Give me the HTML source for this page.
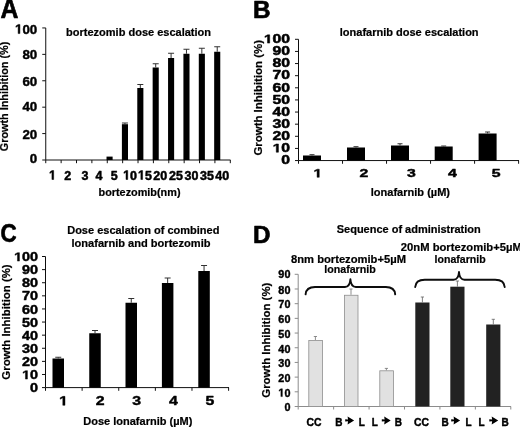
<!DOCTYPE html>
<html><head><meta charset="utf-8"><title>Figure</title>
<style>html,body{margin:0;padding:0;background:#fff;}svg{display:block;will-change:transform;}text{font-family:"Liberation Sans",sans-serif;font-weight:bold;fill:#000;stroke:#000;stroke-width:0.22px;stroke-linejoin:round;}</style>
</head><body>
<svg width="520" height="428" viewBox="0 0 520 428">
<defs><filter id="soft" x="0" y="0" width="520" height="428" filterUnits="userSpaceOnUse"><feGaussianBlur stdDeviation="0.42"/></filter></defs>
<rect x="0" y="0" width="520" height="428" fill="#fff"/>
<g filter="url(#soft)">
<rect x="-5" y="-5" width="530" height="438" fill="#fff"/>
<text transform="translate(0.4,17.9) scale(1,1.08)" font-size="24.8" style="stroke-width:0.65px">A</text>
<text x="252.9" y="18.1" font-size="24.3" text-anchor="start" style="stroke-width:0.65px">B</text>
<text x="0.5" y="242.1" font-size="25.2" text-anchor="start" textLength="16.2" lengthAdjust="spacingAndGlyphs" style="stroke-width:0.65px">C</text>
<text x="253.0" y="242.5" font-size="24.2" text-anchor="start" style="stroke-width:0.65px">D</text>
<line x1="45.75" y1="27.95" x2="45.75" y2="160.0" stroke="#111111" stroke-width="1"/>
<line x1="45.75" y1="160.0" x2="230.5" y2="160.0" stroke="#111111" stroke-width="1"/>
<line x1="42.25" y1="160.0" x2="45.75" y2="160.0" stroke="#111111" stroke-width="1"/>
<text transform="translate(29.80,163.40) scale(1.0,1)" font-size="13.3" style="stroke-width:0.45px">0</text>
<line x1="42.25" y1="133.59" x2="45.75" y2="133.59" stroke="#111111" stroke-width="1"/>
<text transform="translate(22.41,138.80) scale(1.0,1)" font-size="13.3" style="stroke-width:0.45px">2</text>
<text transform="translate(29.80,138.80) scale(1.0,1)" font-size="13.3" style="stroke-width:0.45px">0</text>
<line x1="42.25" y1="107.17999999999999" x2="45.75" y2="107.17999999999999" stroke="#111111" stroke-width="1"/>
<text transform="translate(22.41,111.30) scale(1.0,1)" font-size="13.3" style="stroke-width:0.45px">4</text>
<text transform="translate(29.80,111.30) scale(1.0,1)" font-size="13.3" style="stroke-width:0.45px">0</text>
<line x1="42.25" y1="80.77" x2="45.75" y2="80.77" stroke="#111111" stroke-width="1"/>
<text transform="translate(22.41,85.90) scale(1.0,1)" font-size="13.3" style="stroke-width:0.45px">6</text>
<text transform="translate(29.80,85.90) scale(1.0,1)" font-size="13.3" style="stroke-width:0.45px">0</text>
<line x1="42.25" y1="54.359999999999985" x2="45.75" y2="54.359999999999985" stroke="#111111" stroke-width="1"/>
<text transform="translate(22.41,58.50) scale(1.0,1)" font-size="13.3" style="stroke-width:0.45px">8</text>
<text transform="translate(29.80,58.50) scale(1.0,1)" font-size="13.3" style="stroke-width:0.45px">0</text>
<line x1="42.25" y1="27.94999999999999" x2="45.75" y2="27.94999999999999" stroke="#111111" stroke-width="1"/>
<polygon points="18.11,33.60 18.11,26.00 15.92,27.37 15.92,25.94 18.21,24.45 19.94,24.45 19.94,33.60" fill="#000" stroke="#000" stroke-width="0.45" stroke-linejoin="round"/>
<text transform="translate(22.41,33.60) scale(1.0,1)" font-size="13.3" style="stroke-width:0.45px">0</text>
<text transform="translate(29.80,33.60) scale(1.0,1)" font-size="13.3" style="stroke-width:0.45px">0</text>
<line x1="45.75" y1="160.0" x2="45.75" y2="163.2" stroke="#111111" stroke-width="1"/>
<line x1="61.12916666666667" y1="160.0" x2="61.12916666666667" y2="163.2" stroke="#111111" stroke-width="1"/>
<line x1="76.50833333333334" y1="160.0" x2="76.50833333333334" y2="163.2" stroke="#111111" stroke-width="1"/>
<line x1="91.8875" y1="160.0" x2="91.8875" y2="163.2" stroke="#111111" stroke-width="1"/>
<line x1="107.26666666666668" y1="160.0" x2="107.26666666666668" y2="163.2" stroke="#111111" stroke-width="1"/>
<line x1="122.64583333333334" y1="160.0" x2="122.64583333333334" y2="163.2" stroke="#111111" stroke-width="1"/>
<line x1="138.025" y1="160.0" x2="138.025" y2="163.2" stroke="#111111" stroke-width="1"/>
<line x1="153.4041666666667" y1="160.0" x2="153.4041666666667" y2="163.2" stroke="#111111" stroke-width="1"/>
<line x1="168.78333333333336" y1="160.0" x2="168.78333333333336" y2="163.2" stroke="#111111" stroke-width="1"/>
<line x1="184.16250000000002" y1="160.0" x2="184.16250000000002" y2="163.2" stroke="#111111" stroke-width="1"/>
<line x1="199.54166666666669" y1="160.0" x2="199.54166666666669" y2="163.2" stroke="#111111" stroke-width="1"/>
<line x1="214.92083333333335" y1="160.0" x2="214.92083333333335" y2="163.2" stroke="#111111" stroke-width="1"/>
<line x1="230.3" y1="160.0" x2="230.3" y2="163.2" stroke="#111111" stroke-width="1"/>
<polygon points="51.94,179.50 51.94,172.07 49.88,173.41 49.88,172.01 52.03,170.56 53.65,170.56 53.65,179.50" fill="#000" stroke="#000" stroke-width="0.5" stroke-linejoin="round"/>
<text transform="translate(64.33,179.50) scale(0.96,1)" font-size="13" style="stroke-width:0.5px">2</text>
<text transform="translate(81.43,179.50) scale(0.96,1)" font-size="13" style="stroke-width:0.5px">3</text>
<text transform="translate(95.43,179.50) scale(0.96,1)" font-size="13" style="stroke-width:0.5px">4</text>
<text transform="translate(110.83,179.50) scale(0.96,1)" font-size="13" style="stroke-width:0.5px">5</text>
<polygon points="126.02,179.50 126.02,172.07 123.96,173.41 123.96,172.01 126.11,170.56 127.73,170.56 127.73,179.50" fill="#000" stroke="#000" stroke-width="0.5" stroke-linejoin="round"/>
<text transform="translate(130.05,179.50) scale(0.96,1)" font-size="13" style="stroke-width:0.5px">0</text>
<polygon points="140.87,179.50 140.87,172.07 138.81,173.41 138.81,172.01 140.96,170.56 142.58,170.56 142.58,179.50" fill="#000" stroke="#000" stroke-width="0.5" stroke-linejoin="round"/>
<text transform="translate(144.90,179.50) scale(0.96,1)" font-size="13" style="stroke-width:0.5px">5</text>
<text transform="translate(153.36,179.50) scale(0.96,1)" font-size="13" style="stroke-width:0.5px">2</text>
<text transform="translate(160.30,179.50) scale(0.96,1)" font-size="13" style="stroke-width:0.5px">0</text>
<text transform="translate(168.96,179.50) scale(0.96,1)" font-size="13" style="stroke-width:0.5px">2</text>
<text transform="translate(175.90,179.50) scale(0.96,1)" font-size="13" style="stroke-width:0.5px">5</text>
<text transform="translate(184.46,179.50) scale(0.96,1)" font-size="13" style="stroke-width:0.5px">3</text>
<text transform="translate(191.40,179.50) scale(0.96,1)" font-size="13" style="stroke-width:0.5px">0</text>
<text transform="translate(199.96,179.50) scale(0.96,1)" font-size="13" style="stroke-width:0.5px">3</text>
<text transform="translate(206.90,179.50) scale(0.96,1)" font-size="13" style="stroke-width:0.5px">5</text>
<text transform="translate(215.26,179.50) scale(0.96,1)" font-size="13" style="stroke-width:0.5px">4</text>
<text transform="translate(222.20,179.50) scale(0.96,1)" font-size="13" style="stroke-width:0.5px">0</text>
<rect x="106.52" y="156.60" width="6.10" height="3.40" fill="#000"/>
<rect x="121.90" y="124.20" width="6.10" height="35.80" fill="#000"/>
<line x1="124.94583333333334" y1="123.0" x2="124.94583333333334" y2="124.2" stroke="#333" stroke-width="1"/>
<line x1="121.94583333333334" y1="123.0" x2="127.94583333333334" y2="123.0" stroke="#333" stroke-width="1"/>
<rect x="137.28" y="88.00" width="6.10" height="72.00" fill="#000"/>
<line x1="140.32500000000002" y1="84.5" x2="140.32500000000002" y2="88" stroke="#333" stroke-width="1"/>
<line x1="137.32500000000002" y1="84.5" x2="143.32500000000002" y2="84.5" stroke="#333" stroke-width="1"/>
<rect x="152.65" y="67.50" width="6.10" height="92.50" fill="#000"/>
<line x1="155.7041666666667" y1="63.75" x2="155.7041666666667" y2="67.5" stroke="#333" stroke-width="1"/>
<line x1="152.7041666666667" y1="63.75" x2="158.7041666666667" y2="63.75" stroke="#333" stroke-width="1"/>
<rect x="168.03" y="58.00" width="6.10" height="102.00" fill="#000"/>
<line x1="171.08333333333337" y1="53.25" x2="171.08333333333337" y2="58" stroke="#333" stroke-width="1"/>
<line x1="168.08333333333337" y1="53.25" x2="174.08333333333337" y2="53.25" stroke="#333" stroke-width="1"/>
<rect x="183.41" y="53.75" width="6.10" height="106.25" fill="#000"/>
<line x1="186.46250000000003" y1="49.25" x2="186.46250000000003" y2="53.75" stroke="#333" stroke-width="1"/>
<line x1="183.46250000000003" y1="49.25" x2="189.46250000000003" y2="49.25" stroke="#333" stroke-width="1"/>
<rect x="198.79" y="53.75" width="6.10" height="106.25" fill="#000"/>
<line x1="201.8416666666667" y1="48.25" x2="201.8416666666667" y2="53.75" stroke="#333" stroke-width="1"/>
<line x1="198.8416666666667" y1="48.25" x2="204.8416666666667" y2="48.25" stroke="#333" stroke-width="1"/>
<rect x="214.17" y="51.75" width="6.10" height="108.25" fill="#000"/>
<line x1="217.22083333333336" y1="46.75" x2="217.22083333333336" y2="51.75" stroke="#333" stroke-width="1"/>
<line x1="214.22083333333336" y1="46.75" x2="220.22083333333336" y2="46.75" stroke="#333" stroke-width="1"/>
<text x="66.1" y="35.9" font-size="11" text-anchor="start" textLength="144.9" lengthAdjust="spacingAndGlyphs" >bortezomib dose escalation</text>
<text x="98.5" y="195.5" font-size="11" text-anchor="start" textLength="82" lengthAdjust="spacingAndGlyphs" >bortezomib(nm)</text>
<text transform="translate(7.9,96.5) rotate(-90)" font-size="11" text-anchor="middle" textLength="109.5" lengthAdjust="spacingAndGlyphs">Growth Inhibition (%)</text>
<line x1="298.5" y1="39.3" x2="298.5" y2="160.55" stroke="#111111" stroke-width="1"/>
<line x1="298.5" y1="160.55" x2="519" y2="160.55" stroke="#111111" stroke-width="1"/>
<line x1="295.0" y1="160.55" x2="298.5" y2="160.55" stroke="#111111" stroke-width="1"/>
<text transform="translate(281.35,164.35) scale(1.3110916008194322,1)" font-size="12.0" style="stroke-width:0.5px">0</text>
<line x1="295.0" y1="148.425" x2="298.5" y2="148.425" stroke="#111111" stroke-width="1"/>
<polygon points="276.27,152.23 276.27,145.37 273.68,146.61 273.68,145.31 276.39,143.97 278.43,143.97 278.43,152.23" fill="#000" stroke="#000" stroke-width="0.5" stroke-linejoin="round"/>
<text transform="translate(281.35,152.23) scale(1.3110916008194322,1)" font-size="12.0" style="stroke-width:0.5px">0</text>
<line x1="295.0" y1="136.3" x2="298.5" y2="136.3" stroke="#111111" stroke-width="1"/>
<text transform="translate(272.60,140.10) scale(1.3110916008194322,1)" font-size="12.0" style="stroke-width:0.5px">2</text>
<text transform="translate(281.35,140.10) scale(1.3110916008194322,1)" font-size="12.0" style="stroke-width:0.5px">0</text>
<line x1="295.0" y1="124.17500000000001" x2="298.5" y2="124.17500000000001" stroke="#111111" stroke-width="1"/>
<text transform="translate(272.60,127.98) scale(1.3110916008194322,1)" font-size="12.0" style="stroke-width:0.5px">3</text>
<text transform="translate(281.35,127.98) scale(1.3110916008194322,1)" font-size="12.0" style="stroke-width:0.5px">0</text>
<line x1="295.0" y1="112.05000000000001" x2="298.5" y2="112.05000000000001" stroke="#111111" stroke-width="1"/>
<text transform="translate(272.60,115.85) scale(1.3110916008194322,1)" font-size="12.0" style="stroke-width:0.5px">4</text>
<text transform="translate(281.35,115.85) scale(1.3110916008194322,1)" font-size="12.0" style="stroke-width:0.5px">0</text>
<line x1="295.0" y1="99.925" x2="298.5" y2="99.925" stroke="#111111" stroke-width="1"/>
<text transform="translate(272.60,103.72) scale(1.3110916008194322,1)" font-size="12.0" style="stroke-width:0.5px">5</text>
<text transform="translate(281.35,103.72) scale(1.3110916008194322,1)" font-size="12.0" style="stroke-width:0.5px">0</text>
<line x1="295.0" y1="87.8" x2="298.5" y2="87.8" stroke="#111111" stroke-width="1"/>
<text transform="translate(272.60,91.60) scale(1.3110916008194322,1)" font-size="12.0" style="stroke-width:0.5px">6</text>
<text transform="translate(281.35,91.60) scale(1.3110916008194322,1)" font-size="12.0" style="stroke-width:0.5px">0</text>
<line x1="295.0" y1="75.675" x2="298.5" y2="75.675" stroke="#111111" stroke-width="1"/>
<text transform="translate(272.60,79.47) scale(1.3110916008194322,1)" font-size="12.0" style="stroke-width:0.5px">7</text>
<text transform="translate(281.35,79.47) scale(1.3110916008194322,1)" font-size="12.0" style="stroke-width:0.5px">0</text>
<line x1="295.0" y1="63.55" x2="298.5" y2="63.55" stroke="#111111" stroke-width="1"/>
<text transform="translate(272.60,67.35) scale(1.3110916008194322,1)" font-size="12.0" style="stroke-width:0.5px">8</text>
<text transform="translate(281.35,67.35) scale(1.3110916008194322,1)" font-size="12.0" style="stroke-width:0.5px">0</text>
<line x1="295.0" y1="51.42499999999998" x2="298.5" y2="51.42499999999998" stroke="#111111" stroke-width="1"/>
<text transform="translate(272.60,55.22) scale(1.3110916008194322,1)" font-size="12.0" style="stroke-width:0.5px">9</text>
<text transform="translate(281.35,55.22) scale(1.3110916008194322,1)" font-size="12.0" style="stroke-width:0.5px">0</text>
<line x1="295.0" y1="39.29999999999998" x2="298.5" y2="39.29999999999998" stroke="#111111" stroke-width="1"/>
<polygon points="267.52,43.10 267.52,36.24 264.93,37.48 264.93,36.19 267.64,34.84 269.68,34.84 269.68,43.10" fill="#000" stroke="#000" stroke-width="0.5" stroke-linejoin="round"/>
<text transform="translate(272.60,43.10) scale(1.3110916008194322,1)" font-size="12.0" style="stroke-width:0.5px">0</text>
<text transform="translate(281.35,43.10) scale(1.3110916008194322,1)" font-size="12.0" style="stroke-width:0.5px">0</text>
<line x1="298.5" y1="160.55" x2="298.5" y2="163.75" stroke="#111111" stroke-width="1"/>
<line x1="342.52" y1="160.55" x2="342.52" y2="163.75" stroke="#111111" stroke-width="1"/>
<line x1="386.54" y1="160.55" x2="386.54" y2="163.75" stroke="#111111" stroke-width="1"/>
<line x1="430.56" y1="160.55" x2="430.56" y2="163.75" stroke="#111111" stroke-width="1"/>
<line x1="474.58000000000004" y1="160.55" x2="474.58000000000004" y2="163.75" stroke="#111111" stroke-width="1"/>
<line x1="518.6" y1="160.55" x2="518.6" y2="163.75" stroke="#111111" stroke-width="1"/>
<polygon points="317.09,177.30 317.09,170.56 314.48,171.77 314.48,170.50 317.21,169.18 319.26,169.18 319.26,177.30" fill="#000" stroke="#000" stroke-width="0.45" stroke-linejoin="round"/>
<text transform="translate(359.50,177.30) scale(1.3409324266007947,1)" font-size="11.8" style="stroke-width:0.45px">2</text>
<text transform="translate(406.90,177.30) scale(1.3409324266007947,1)" font-size="11.8" style="stroke-width:0.45px">3</text>
<text transform="translate(447.90,177.30) scale(1.3409324266007947,1)" font-size="11.8" style="stroke-width:0.45px">4</text>
<text transform="translate(491.80,177.30) scale(1.3409324266007947,1)" font-size="11.8" style="stroke-width:0.45px">5</text>
<rect x="303.00" y="155.50" width="18.00" height="5.05" fill="#000"/>
<line x1="312" y1="154.7" x2="312" y2="155.5" stroke="#333" stroke-width="1"/>
<line x1="309.5" y1="154.7" x2="314.5" y2="154.7" stroke="#333" stroke-width="1"/>
<rect x="347.00" y="147.50" width="18.00" height="13.05" fill="#000"/>
<line x1="356" y1="146.7" x2="356" y2="147.5" stroke="#333" stroke-width="1"/>
<line x1="353.5" y1="146.7" x2="358.5" y2="146.7" stroke="#333" stroke-width="1"/>
<rect x="391.00" y="145.50" width="18.00" height="15.05" fill="#000"/>
<line x1="400" y1="143.75" x2="400" y2="145.5" stroke="#333" stroke-width="1"/>
<line x1="397.5" y1="143.75" x2="402.5" y2="143.75" stroke="#333" stroke-width="1"/>
<rect x="434.70" y="146.50" width="18.00" height="14.05" fill="#000"/>
<line x1="443.7" y1="146.0" x2="443.7" y2="146.5" stroke="#333" stroke-width="1"/>
<line x1="441.2" y1="146.0" x2="446.2" y2="146.0" stroke="#333" stroke-width="1"/>
<rect x="478.60" y="133.50" width="18.00" height="27.05" fill="#000"/>
<line x1="487.6" y1="132.0" x2="487.6" y2="133.5" stroke="#333" stroke-width="1"/>
<line x1="485.1" y1="132.0" x2="490.1" y2="132.0" stroke="#333" stroke-width="1"/>
<text x="339.8" y="35.8" font-size="11" text-anchor="start" textLength="138.8" lengthAdjust="spacingAndGlyphs" >lonafarnib dose escalation</text>
<text x="370.8" y="195.7" font-size="11.3" text-anchor="start" textLength="79.2" lengthAdjust="spacingAndGlyphs" >lonafarnib (µM)</text>
<text transform="translate(262.3,97.8) rotate(-90)" font-size="11" text-anchor="middle" textLength="115.6" lengthAdjust="spacingAndGlyphs">Growth Inhibition (%)</text>
<line x1="45.5" y1="256.5" x2="45.5" y2="387.6" stroke="#111111" stroke-width="1"/>
<line x1="45.5" y1="387.6" x2="229" y2="387.6" stroke="#111111" stroke-width="1"/>
<line x1="42.0" y1="387.6" x2="45.5" y2="387.6" stroke="#111111" stroke-width="1"/>
<text transform="translate(30.10,392.20) scale(1.1694754348772636,1)" font-size="12.3" style="stroke-width:0.45px">0</text>
<line x1="42.0" y1="374.49" x2="45.5" y2="374.49" stroke="#111111" stroke-width="1"/>
<polygon points="25.46,379.09 25.46,372.06 23.08,373.33 23.08,372.00 25.56,370.63 27.43,370.63 27.43,379.09" fill="#000" stroke="#000" stroke-width="0.45" stroke-linejoin="round"/>
<text transform="translate(30.10,379.09) scale(1.1694754348772636,1)" font-size="12.3" style="stroke-width:0.45px">0</text>
<line x1="42.0" y1="361.38" x2="45.5" y2="361.38" stroke="#111111" stroke-width="1"/>
<text transform="translate(22.10,365.98) scale(1.1694754348772636,1)" font-size="12.3" style="stroke-width:0.45px">2</text>
<text transform="translate(30.10,365.98) scale(1.1694754348772636,1)" font-size="12.3" style="stroke-width:0.45px">0</text>
<line x1="42.0" y1="348.27000000000004" x2="45.5" y2="348.27000000000004" stroke="#111111" stroke-width="1"/>
<text transform="translate(22.10,352.87) scale(1.1694754348772636,1)" font-size="12.3" style="stroke-width:0.45px">3</text>
<text transform="translate(30.10,352.87) scale(1.1694754348772636,1)" font-size="12.3" style="stroke-width:0.45px">0</text>
<line x1="42.0" y1="335.16" x2="45.5" y2="335.16" stroke="#111111" stroke-width="1"/>
<text transform="translate(22.10,339.76) scale(1.1694754348772636,1)" font-size="12.3" style="stroke-width:0.45px">4</text>
<text transform="translate(30.10,339.76) scale(1.1694754348772636,1)" font-size="12.3" style="stroke-width:0.45px">0</text>
<line x1="42.0" y1="322.05" x2="45.5" y2="322.05" stroke="#111111" stroke-width="1"/>
<text transform="translate(22.10,326.65) scale(1.1694754348772636,1)" font-size="12.3" style="stroke-width:0.45px">5</text>
<text transform="translate(30.10,326.65) scale(1.1694754348772636,1)" font-size="12.3" style="stroke-width:0.45px">0</text>
<line x1="42.0" y1="308.94" x2="45.5" y2="308.94" stroke="#111111" stroke-width="1"/>
<text transform="translate(22.10,313.54) scale(1.1694754348772636,1)" font-size="12.3" style="stroke-width:0.45px">6</text>
<text transform="translate(30.10,313.54) scale(1.1694754348772636,1)" font-size="12.3" style="stroke-width:0.45px">0</text>
<line x1="42.0" y1="295.83000000000004" x2="45.5" y2="295.83000000000004" stroke="#111111" stroke-width="1"/>
<text transform="translate(22.10,300.43) scale(1.1694754348772636,1)" font-size="12.3" style="stroke-width:0.45px">7</text>
<text transform="translate(30.10,300.43) scale(1.1694754348772636,1)" font-size="12.3" style="stroke-width:0.45px">0</text>
<line x1="42.0" y1="282.72" x2="45.5" y2="282.72" stroke="#111111" stroke-width="1"/>
<text transform="translate(22.10,287.32) scale(1.1694754348772636,1)" font-size="12.3" style="stroke-width:0.45px">8</text>
<text transform="translate(30.10,287.32) scale(1.1694754348772636,1)" font-size="12.3" style="stroke-width:0.45px">0</text>
<line x1="42.0" y1="269.61" x2="45.5" y2="269.61" stroke="#111111" stroke-width="1"/>
<text transform="translate(22.10,274.21) scale(1.1694754348772636,1)" font-size="12.3" style="stroke-width:0.45px">9</text>
<text transform="translate(30.10,274.21) scale(1.1694754348772636,1)" font-size="12.3" style="stroke-width:0.45px">0</text>
<line x1="42.0" y1="256.5" x2="45.5" y2="256.5" stroke="#111111" stroke-width="1"/>
<polygon points="17.46,261.10 17.46,254.07 15.08,255.34 15.08,254.01 17.56,252.64 19.43,252.64 19.43,261.10" fill="#000" stroke="#000" stroke-width="0.45" stroke-linejoin="round"/>
<text transform="translate(22.10,261.10) scale(1.1694754348772636,1)" font-size="12.3" style="stroke-width:0.45px">0</text>
<text transform="translate(30.10,261.10) scale(1.1694754348772636,1)" font-size="12.3" style="stroke-width:0.45px">0</text>
<line x1="45.5" y1="387.6" x2="45.5" y2="390.8" stroke="#111111" stroke-width="1"/>
<line x1="82.12" y1="387.6" x2="82.12" y2="390.8" stroke="#111111" stroke-width="1"/>
<line x1="118.74" y1="387.6" x2="118.74" y2="390.8" stroke="#111111" stroke-width="1"/>
<line x1="155.35999999999999" y1="387.6" x2="155.35999999999999" y2="390.8" stroke="#111111" stroke-width="1"/>
<line x1="191.98" y1="387.6" x2="191.98" y2="390.8" stroke="#111111" stroke-width="1"/>
<line x1="228.6" y1="387.6" x2="228.6" y2="390.8" stroke="#111111" stroke-width="1"/>
<polygon points="62.80,405.30 62.80,397.87 60.19,399.21 60.19,397.81 62.92,396.36 64.97,396.36 64.97,405.30" fill="#000" stroke="#000" stroke-width="0.45" stroke-linejoin="round"/>
<text transform="translate(95.73,405.30) scale(1.2171540487607213,1)" font-size="13" style="stroke-width:0.45px">2</text>
<text transform="translate(132.35,405.30) scale(1.2171540487607213,1)" font-size="13" style="stroke-width:0.45px">3</text>
<text transform="translate(168.97,405.30) scale(1.2171540487607213,1)" font-size="13" style="stroke-width:0.45px">4</text>
<text transform="translate(205.59,405.30) scale(1.2171540487607213,1)" font-size="13" style="stroke-width:0.45px">5</text>
<rect x="52.50" y="358.50" width="11.50" height="29.10" fill="#000"/>
<line x1="58.25" y1="357.25" x2="58.25" y2="358.5" stroke="#333" stroke-width="1"/>
<line x1="55.25" y1="357.25" x2="61.25" y2="357.25" stroke="#333" stroke-width="1"/>
<rect x="89.25" y="333.25" width="11.50" height="54.35" fill="#000"/>
<line x1="95.0" y1="330.5" x2="95.0" y2="333.25" stroke="#333" stroke-width="1"/>
<line x1="92.0" y1="330.5" x2="98.0" y2="330.5" stroke="#333" stroke-width="1"/>
<rect x="125.50" y="302.75" width="11.50" height="84.85" fill="#000"/>
<line x1="131.25" y1="298.5" x2="131.25" y2="302.75" stroke="#333" stroke-width="1"/>
<line x1="128.25" y1="298.5" x2="134.25" y2="298.5" stroke="#333" stroke-width="1"/>
<rect x="161.90" y="283.00" width="11.50" height="104.60" fill="#000"/>
<line x1="167.65" y1="278" x2="167.65" y2="283" stroke="#333" stroke-width="1"/>
<line x1="164.65" y1="278" x2="170.65" y2="278" stroke="#333" stroke-width="1"/>
<rect x="198.30" y="271.00" width="11.50" height="116.60" fill="#000"/>
<line x1="204.05" y1="265.5" x2="204.05" y2="271" stroke="#333" stroke-width="1"/>
<line x1="201.05" y1="265.5" x2="207.05" y2="265.5" stroke="#333" stroke-width="1"/>
<text x="67.2" y="233.8" font-size="11" text-anchor="start" textLength="152.2" lengthAdjust="spacingAndGlyphs" >Dose escalation of combined</text>
<text x="71.5" y="246.6" font-size="11" text-anchor="start" textLength="139" lengthAdjust="spacingAndGlyphs" >lonafarnib and bortezomib</text>
<text x="83.3" y="425.2" font-size="11" text-anchor="start" textLength="109" lengthAdjust="spacingAndGlyphs" >Dose lonafarnib (µM)</text>
<text transform="translate(9.5,322) rotate(-90)" font-size="11" text-anchor="middle" textLength="115.3" lengthAdjust="spacingAndGlyphs">Growth Inhibition (%)</text>
<line x1="298.2" y1="274.3" x2="298.2" y2="406.5" stroke="#8c8c8c" stroke-width="1"/>
<line x1="298.2" y1="406.5" x2="511" y2="406.5" stroke="#8c8c8c" stroke-width="1"/>
<line x1="294.7" y1="406.5" x2="298.2" y2="406.5" stroke="#8c8c8c" stroke-width="1"/>
<text transform="translate(284.38,411.05) scale(0.95,1)" font-size="11.4" style="stroke-width:0.4px">0</text>
<line x1="294.7" y1="391.81111111111113" x2="298.2" y2="391.81111111111113" stroke="#8c8c8c" stroke-width="1"/>
<polygon points="280.88,396.61 280.88,390.10 279.09,391.27 279.09,390.04 280.96,388.77 282.37,388.77 282.37,396.61" fill="#000" stroke="#000" stroke-width="0.4" stroke-linejoin="round"/>
<text transform="translate(284.38,396.61) scale(0.95,1)" font-size="11.4" style="stroke-width:0.4px">0</text>
<line x1="294.7" y1="377.1222222222222" x2="298.2" y2="377.1222222222222" stroke="#8c8c8c" stroke-width="1"/>
<text transform="translate(278.35,381.92) scale(0.95,1)" font-size="11.4" style="stroke-width:0.4px">2</text>
<text transform="translate(284.38,381.92) scale(0.95,1)" font-size="11.4" style="stroke-width:0.4px">0</text>
<line x1="294.7" y1="362.43333333333334" x2="298.2" y2="362.43333333333334" stroke="#8c8c8c" stroke-width="1"/>
<text transform="translate(278.35,367.23) scale(0.95,1)" font-size="11.4" style="stroke-width:0.4px">3</text>
<text transform="translate(284.38,367.23) scale(0.95,1)" font-size="11.4" style="stroke-width:0.4px">0</text>
<line x1="294.7" y1="347.74444444444447" x2="298.2" y2="347.74444444444447" stroke="#8c8c8c" stroke-width="1"/>
<text transform="translate(278.35,352.54) scale(0.95,1)" font-size="11.4" style="stroke-width:0.4px">4</text>
<text transform="translate(284.38,352.54) scale(0.95,1)" font-size="11.4" style="stroke-width:0.4px">0</text>
<line x1="294.7" y1="333.05555555555554" x2="298.2" y2="333.05555555555554" stroke="#8c8c8c" stroke-width="1"/>
<text transform="translate(278.35,337.86) scale(0.95,1)" font-size="11.4" style="stroke-width:0.4px">5</text>
<text transform="translate(284.38,337.86) scale(0.95,1)" font-size="11.4" style="stroke-width:0.4px">0</text>
<line x1="294.7" y1="318.3666666666667" x2="298.2" y2="318.3666666666667" stroke="#8c8c8c" stroke-width="1"/>
<text transform="translate(278.35,322.92) scale(0.95,1)" font-size="11.4" style="stroke-width:0.4px">6</text>
<text transform="translate(284.38,322.92) scale(0.95,1)" font-size="11.4" style="stroke-width:0.4px">0</text>
<line x1="294.7" y1="303.6777777777778" x2="298.2" y2="303.6777777777778" stroke="#8c8c8c" stroke-width="1"/>
<text transform="translate(278.35,308.23) scale(0.95,1)" font-size="11.4" style="stroke-width:0.4px">7</text>
<text transform="translate(284.38,308.23) scale(0.95,1)" font-size="11.4" style="stroke-width:0.4px">0</text>
<line x1="294.7" y1="288.9888888888889" x2="298.2" y2="288.9888888888889" stroke="#8c8c8c" stroke-width="1"/>
<text transform="translate(278.35,293.54) scale(0.95,1)" font-size="11.4" style="stroke-width:0.4px">8</text>
<text transform="translate(284.38,293.54) scale(0.95,1)" font-size="11.4" style="stroke-width:0.4px">0</text>
<line x1="294.7" y1="274.3" x2="298.2" y2="274.3" stroke="#8c8c8c" stroke-width="1"/>
<text transform="translate(278.35,278.40) scale(0.95,1)" font-size="11.4" style="stroke-width:0.4px">9</text>
<text transform="translate(284.38,278.40) scale(0.95,1)" font-size="11.4" style="stroke-width:0.4px">0</text>
<line x1="298.2" y1="406.5" x2="298.2" y2="409.5" stroke="#8c8c8c" stroke-width="1"/>
<line x1="333.6333333333333" y1="406.5" x2="333.6333333333333" y2="409.5" stroke="#8c8c8c" stroke-width="1"/>
<line x1="369.06666666666666" y1="406.5" x2="369.06666666666666" y2="409.5" stroke="#8c8c8c" stroke-width="1"/>
<line x1="404.5" y1="406.5" x2="404.5" y2="409.5" stroke="#8c8c8c" stroke-width="1"/>
<line x1="439.93333333333334" y1="406.5" x2="439.93333333333334" y2="409.5" stroke="#8c8c8c" stroke-width="1"/>
<line x1="475.3666666666667" y1="406.5" x2="475.3666666666667" y2="409.5" stroke="#8c8c8c" stroke-width="1"/>
<line x1="510.8" y1="406.5" x2="510.8" y2="409.5" stroke="#8c8c8c" stroke-width="1"/>
<rect x="308.80" y="340.50" width="13.60" height="66.00" fill="#e1e1e1" stroke="#8e8e8e" stroke-width="0.8"/>
<line x1="315.40000000000003" y1="336.5" x2="315.40000000000003" y2="340" stroke="#7a7a7a" stroke-width="0.85"/>
<line x1="313.8" y1="336.5" x2="317.00000000000006" y2="336.5" stroke="#7a7a7a" stroke-width="0.85"/>
<rect x="344.40" y="295.25" width="13.60" height="111.25" fill="#e1e1e1" stroke="#8e8e8e" stroke-width="0.8"/>
<line x1="351.0" y1="289" x2="351.0" y2="294.75" stroke="#7a7a7a" stroke-width="0.85"/>
<line x1="349.4" y1="289" x2="352.6" y2="289" stroke="#7a7a7a" stroke-width="0.85"/>
<rect x="379.80" y="370.80" width="13.60" height="35.70" fill="#e1e1e1" stroke="#8e8e8e" stroke-width="0.8"/>
<line x1="386.40000000000003" y1="368.4" x2="386.40000000000003" y2="370.3" stroke="#7a7a7a" stroke-width="0.85"/>
<line x1="384.8" y1="368.4" x2="388.00000000000006" y2="368.4" stroke="#7a7a7a" stroke-width="0.85"/>
<rect x="415.30" y="302.50" width="14.20" height="104.00" fill="#222222"/>
<line x1="422.40000000000003" y1="297" x2="422.40000000000003" y2="302.5" stroke="#6a6a6a" stroke-width="0.85"/>
<line x1="420.8" y1="297" x2="424.00000000000006" y2="297" stroke="#6a6a6a" stroke-width="0.85"/>
<rect x="450.30" y="286.70" width="14.20" height="119.80" fill="#222222"/>
<line x1="457.40000000000003" y1="281" x2="457.40000000000003" y2="286.7" stroke="#6a6a6a" stroke-width="0.85"/>
<line x1="455.8" y1="281" x2="459.00000000000006" y2="281" stroke="#6a6a6a" stroke-width="0.85"/>
<rect x="486.20" y="324.50" width="14.20" height="82.00" fill="#222222"/>
<line x1="493.3" y1="319.3" x2="493.3" y2="324.5" stroke="#6a6a6a" stroke-width="0.85"/>
<line x1="491.7" y1="319.3" x2="494.90000000000003" y2="319.3" stroke="#6a6a6a" stroke-width="0.85"/>
<text x="336.75" y="233.0" font-size="11" text-anchor="start" textLength="144" lengthAdjust="spacingAndGlyphs" >Sequence of administration</text>
<text x="291" y="262.9" font-size="11" text-anchor="start" textLength="115" lengthAdjust="spacingAndGlyphs" >8nm bortezomib+5µM</text>
<text x="324.2" y="273.3" font-size="11" text-anchor="start" textLength="51.6" lengthAdjust="spacingAndGlyphs" >lonafarnib</text>
<text x="400.8" y="251.4" font-size="11" text-anchor="start" textLength="121" lengthAdjust="spacingAndGlyphs" >20nM bortezomib+5µM</text>
<text x="434.6" y="263.0" font-size="11" text-anchor="start" textLength="51" lengthAdjust="spacingAndGlyphs" >lonafarnib</text>
<path d="M305.6,294.4 C305.90000000000003,289.9 308.1,287.0 315.1,287.0 L344.9,287.0 C348.79999999999995,287.0 350.09999999999997,284.0 350.4,279.3 C350.7,284.0 352.0,287.0 355.9,287.0 L385.7,287.0 C392.7,287.0 394.9,289.9 395.2,294.4" fill="none" stroke="#0a0a0a" stroke-width="1.9" stroke-linecap="round" stroke-linejoin="round"/>
<text transform="translate(269.6,340.2) rotate(-90)" font-size="11" text-anchor="middle" textLength="115" lengthAdjust="spacingAndGlyphs">Growth Inhibition (%)</text>
<path d="M415.2,287.0 C415.5,282.5 417.7,279.7 424.7,279.7 L453.5,279.7 C457.4,279.7 458.7,276.7 459.0,272.0 C459.3,276.7 460.6,279.7 464.5,279.7 L495.2,279.7 C502.2,279.7 504.4,282.5 504.7,287.0" fill="none" stroke="#0a0a0a" stroke-width="1.9" stroke-linecap="round" stroke-linejoin="round"/>
<text x="314.0" y="425.9" font-size="10" text-anchor="middle" textLength="15" lengthAdjust="spacingAndGlyphs" style="stroke-width:0.4px">CC</text>
<text x="338.9" y="425.9" font-size="10" text-anchor="middle" style="stroke-width:0.4px">B</text>
<path d="M345.2,419.29999999999995 L348.0,419.45 L347.59999999999997,416.4 L354.09999999999997,420.4 L347.59999999999997,424.4 L348.0,421.34999999999997 L345.2,421.5 Z" fill="#000"/>
<text x="361.8" y="425.9" font-size="10" text-anchor="middle" style="stroke-width:0.4px">L</text>
<text x="374.7" y="425.9" font-size="10" text-anchor="middle" style="stroke-width:0.4px">L</text>
<path d="M381.8,419.29999999999995 L384.6,419.45 L384.2,416.4 L390.7,420.4 L384.2,424.4 L384.6,421.34999999999997 L381.8,421.5 Z" fill="#000"/>
<text x="398.3" y="425.9" font-size="10" text-anchor="middle" style="stroke-width:0.4px">B</text>
<text x="421.4" y="425.9" font-size="10" text-anchor="middle" textLength="15" lengthAdjust="spacingAndGlyphs" style="stroke-width:0.4px">CC</text>
<text x="445.0" y="425.9" font-size="10" text-anchor="middle" style="stroke-width:0.4px">B</text>
<path d="M451.2,419.29999999999995 L454.0,419.45 L453.59999999999997,416.4 L460.09999999999997,420.4 L453.59999999999997,424.4 L454.0,421.34999999999997 L451.2,421.5 Z" fill="#000"/>
<text x="468.5" y="425.9" font-size="10" text-anchor="middle" style="stroke-width:0.4px">L</text>
<text x="481.5" y="425.9" font-size="10" text-anchor="middle" style="stroke-width:0.4px">L</text>
<path d="M489.3,419.29999999999995 L492.1,419.45 L491.7,416.4 L498.2,420.4 L491.7,424.4 L492.1,421.34999999999997 L489.3,421.5 Z" fill="#000"/>
<text x="505.2" y="425.9" font-size="10" text-anchor="middle" style="stroke-width:0.4px">B</text>
</g>
</svg>
</body></html>
